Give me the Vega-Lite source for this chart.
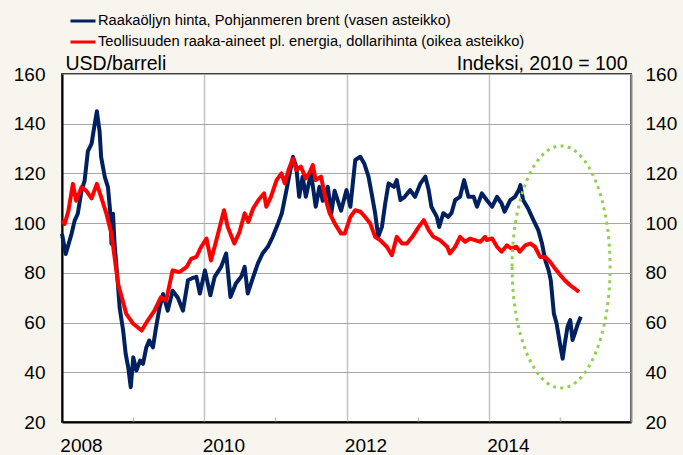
{
  "$schema": "https://vega.github.io/schema/vega-lite/v6.json",
  "width": 569,
  "height": 348,
  "autosize": {"type": "none"},
  "padding": {"left": 62, "top": 74, "right": 52, "bottom": 33},
  "background": "#F8F4EE",
  "config": {
    "font": "Liberation Sans",
    "view": {"fill": "white", "stroke": "#404040", "strokeWidth": 2}
  },
  "datasets": {
    "brent": [
      {"d":"2008-01-01","v":95.7},{"d":"2008-01-20","v":87.6},{"d":"2008-02-19","v":95.7},{"d":"2008-03-06","v":101},
      {"d":"2008-03-22","v":103.8},{"d":"2008-04-10","v":113},{"d":"2008-04-26","v":117},{"d":"2008-05-13","v":129},
      {"d":"2008-06-01","v":132},{"d":"2008-06-09","v":136},{"d":"2008-06-28","v":145},{"d":"2008-07-12","v":137},
      {"d":"2008-07-20","v":126.6},{"d":"2008-08-08","v":118.5},{"d":"2008-08-24","v":114.5},{"d":"2008-09-04","v":105},
      {"d":"2008-09-11","v":91.7},{"d":"2008-09-19","v":103.8},{"d":"2008-09-27","v":91.7},{"d":"2008-10-10","v":79.6},
      {"d":"2008-10-23","v":66},{"d":"2008-11-10","v":56.8},{"d":"2008-11-23","v":47.4},{"d":"2008-12-06","v":42},
      {"d":"2008-12-19","v":34},{"d":"2009-01-01","v":46},{"d":"2009-01-17","v":40.7},{"d":"2009-02-05","v":44.7},
      {"d":"2009-02-20","v":43.4},{"d":"2009-03-09","v":50},{"d":"2009-03-24","v":52.8},{"d":"2009-04-12","v":50},
      {"d":"2009-04-28","v":58},{"d":"2009-05-16","v":66},{"d":"2009-06-03","v":71.5},{"d":"2009-06-27","v":64.8},
      {"d":"2009-07-22","v":72.8},{"d":"2009-08-18","v":70},{"d":"2009-09-13","v":64.8},{"d":"2009-10-09","v":77},
      {"d":"2009-11-04","v":78},{"d":"2009-11-21","v":78.4},{"d":"2009-12-09","v":71.7},{"d":"2010-01-04","v":81},
      {"d":"2010-02-01","v":71},{"d":"2010-02-23","v":78.4},{"d":"2010-03-28","v":82.4},{"d":"2010-04-23","v":87.8},
      {"d":"2010-05-15","v":70.3},{"d":"2010-06-12","v":75.7},{"d":"2010-07-09","v":78.4},{"d":"2010-07-27","v":82.4},
      {"d":"2010-08-12","v":71.7},{"d":"2010-09-09","v":78.4},{"d":"2010-10-03","v":83.8},{"d":"2010-10-27","v":87.8},
      {"d":"2010-11-23","v":90.5},{"d":"2010-12-18","v":94.5},{"d":"2011-01-15","v":100},{"d":"2011-02-03","v":104},
      {"d":"2011-02-26","v":113},{"d":"2011-03-12","v":118.7},{"d":"2011-04-01","v":126.7},{"d":"2011-04-18","v":122.7},
      {"d":"2011-05-03","v":110.6},{"d":"2011-05-21","v":118.7},{"d":"2011-06-06","v":110.6},{"d":"2011-07-03","v":120},
      {"d":"2011-07-27","v":106.6},{"d":"2011-08-15","v":114.6},{"d":"2011-09-01","v":109},{"d":"2011-09-27","v":114.6},
      {"d":"2011-10-15","v":104},{"d":"2011-11-01","v":113},{"d":"2011-12-04","v":105},{"d":"2012-01-01","v":113.3},
      {"d":"2012-01-21","v":106.6},{"d":"2012-02-15","v":125.4},{"d":"2012-03-12","v":126.7},{"d":"2012-04-01","v":124},
      {"d":"2012-04-23","v":118.7},{"d":"2012-05-09","v":112},{"d":"2012-05-27","v":104},{"d":"2012-06-12","v":94.5},
      {"d":"2012-07-01","v":98.5},{"d":"2012-07-18","v":108},{"d":"2012-08-04","v":116},{"d":"2012-09-01","v":114.6},
      {"d":"2012-09-15","v":117.3},{"d":"2012-10-04","v":109.3},{"d":"2012-10-26","v":110.6},{"d":"2012-11-23","v":113.3},
      {"d":"2012-12-18","v":110.6},{"d":"2013-01-15","v":116},{"d":"2013-02-09","v":118.7},{"d":"2013-02-26","v":113.3},
      {"d":"2013-03-12","v":106.6},{"d":"2013-04-09","v":102.5},{"d":"2013-04-21","v":98.5},{"d":"2013-05-12","v":104},
      {"d":"2013-06-06","v":102.5},{"d":"2013-06-23","v":104},{"d":"2013-07-12","v":109.3},{"d":"2013-08-06","v":110.6},
      {"d":"2013-08-27","v":117.3},{"d":"2013-09-18","v":110.6},{"d":"2013-10-15","v":110.6},{"d":"2013-11-01","v":106.6},
      {"d":"2013-11-26","v":112},{"d":"2013-12-21","v":109.3},{"d":"2014-01-18","v":106.6},{"d":"2014-02-12","v":110.6},
      {"d":"2014-03-07","v":108},{"d":"2014-03-23","v":104.6},{"d":"2014-04-21","v":109.3},{"d":"2014-05-15","v":110.6},
      {"d":"2014-06-04","v":113.3},{"d":"2014-06-12","v":115.3},{"d":"2014-06-26","v":109.3},{"d":"2014-07-21","v":106},
      {"d":"2014-08-18","v":101.2},{"d":"2014-09-12","v":97.2},{"d":"2014-10-01","v":91.8},{"d":"2014-10-18","v":85},
      {"d":"2014-11-04","v":81},{"d":"2014-11-15","v":77},{"d":"2014-12-01","v":63.6},{"d":"2014-12-15","v":59.6},
      {"d":"2015-01-04","v":50.2},{"d":"2015-01-15","v":45.5},{"d":"2015-01-26","v":51.5},{"d":"2015-02-09","v":58.3},
      {"d":"2015-02-23","v":61},{"d":"2015-03-07","v":53},{"d":"2015-03-18","v":55.6},{"d":"2015-04-01","v":59},
      {"d":"2015-04-18","v":62.3}
    ],
    "raw": [
      {"d":"2008-01-01","v":101},{"d":"2008-01-15","v":99.7},{"d":"2008-02-03","v":105},{"d":"2008-02-26","v":115.8},
      {"d":"2008-03-14","v":109},{"d":"2008-04-10","v":114.5},{"d":"2008-05-05","v":113},{"d":"2008-06-01","v":110},
      {"d":"2008-06-28","v":115.8},{"d":"2008-07-20","v":110.5},{"d":"2008-08-16","v":103.8},{"d":"2008-09-11","v":95.7},
      {"d":"2008-09-27","v":86.3},{"d":"2008-10-15","v":75.6},{"d":"2008-11-03","v":70.2},{"d":"2008-11-26","v":63.5},
      {"d":"2009-01-01","v":59.5},{"d":"2009-02-13","v":56.8},{"d":"2009-03-16","v":60.8},{"d":"2009-04-20","v":64.8},
      {"d":"2009-05-23","v":70.2},{"d":"2009-06-19","v":68.9},{"d":"2009-07-22","v":81},{"d":"2009-08-26","v":80.3},
      {"d":"2009-10-01","v":82.3},{"d":"2009-10-25","v":85.6},{"d":"2009-11-21","v":86.4},{"d":"2009-12-16","v":90.5},
      {"d":"2010-01-12","v":93.8},{"d":"2010-02-04","v":85},{"d":"2010-03-04","v":93.2},{"d":"2010-03-26","v":100},
      {"d":"2010-04-12","v":105.2},{"d":"2010-05-01","v":98.5},{"d":"2010-06-04","v":91.8},{"d":"2010-07-01","v":96.5},
      {"d":"2010-07-27","v":104},{"d":"2010-08-15","v":100.5},{"d":"2010-09-09","v":106},{"d":"2010-10-06","v":109.3},
      {"d":"2010-11-04","v":112},{"d":"2010-11-15","v":106.6},{"d":"2010-12-09","v":110.6},{"d":"2011-01-07","v":117.3},
      {"d":"2011-02-01","v":120},{"d":"2011-02-18","v":116},{"d":"2011-03-09","v":121.3},{"d":"2011-04-01","v":126},
      {"d":"2011-04-18","v":121.3},{"d":"2011-05-12","v":122.7},{"d":"2011-06-06","v":118},{"d":"2011-06-23","v":120},
      {"d":"2011-07-12","v":123.4},{"d":"2011-07-27","v":117.3},{"d":"2011-08-23","v":118.7},{"d":"2011-09-17","v":109.3},
      {"d":"2011-10-06","v":104},{"d":"2011-11-01","v":100},{"d":"2011-12-04","v":95.8},{"d":"2011-12-23","v":95.8},
      {"d":"2012-01-21","v":102.5},{"d":"2012-02-15","v":105.2},{"d":"2012-03-12","v":104.6},{"d":"2012-04-06","v":102.5},
      {"d":"2012-05-01","v":100},{"d":"2012-05-27","v":94.5},{"d":"2012-06-21","v":93.2},{"d":"2012-07-26","v":90.5},
      {"d":"2012-08-21","v":87.1},{"d":"2012-09-15","v":94.5},{"d":"2012-10-12","v":91.8},{"d":"2012-11-06","v":91.8},
      {"d":"2012-12-04","v":94.5},{"d":"2013-01-06","v":98.5},{"d":"2013-02-01","v":101.2},{"d":"2013-02-26","v":97.2},
      {"d":"2013-03-22","v":94.5},{"d":"2013-04-24","v":93.2},{"d":"2013-06-01","v":90.5},{"d":"2013-06-15","v":87.8},
      {"d":"2013-07-12","v":90.5},{"d":"2013-08-06","v":94.5},{"d":"2013-09-01","v":92.5},{"d":"2013-09-26","v":93.8},
      {"d":"2013-10-21","v":93.2},{"d":"2013-11-18","v":92.5},{"d":"2013-12-12","v":94.5},{"d":"2013-12-21","v":93.2},
      {"d":"2014-01-18","v":93.8},{"d":"2014-02-12","v":90.5},{"d":"2014-03-07","v":88.5},{"d":"2014-04-04","v":91.1},
      {"d":"2014-04-26","v":89.8},{"d":"2014-05-23","v":90.5},{"d":"2014-06-09","v":88.5},{"d":"2014-07-07","v":91.1},
      {"d":"2014-08-01","v":91.8},{"d":"2014-08-26","v":90.5},{"d":"2014-09-21","v":86.4},{"d":"2014-10-18","v":86.4},
      {"d":"2014-11-12","v":84.4},{"d":"2014-12-07","v":81.7},{"d":"2015-01-04","v":79},{"d":"2015-01-26","v":77},
      {"d":"2015-02-23","v":75},{"d":"2015-03-18","v":73.7},{"d":"2015-04-09","v":72.3}
    ],
    "mark": [{"d":"2015-01-07","v":82.4}]
  },
  "layer": [
    {
      "data": {"name": "brent"},
      "mark": {"type": "line", "strokeWidth": 4, "strokeJoin": "round"},
      "encoding": {
        "x": {
          "field": "d", "type": "temporal",
          "scale": {"type": "utc", "domain": [{"year": 2008, "month": 1, "date": 1, "utc": true}, {"year": 2016, "month": 1, "date": 1, "utc": true}]},
          "axis": {
            "title": null,
            "values": [{"year": 2008, "utc": true}, {"year": 2009, "utc": true}, {"year": 2010, "utc": true}, {"year": 2011, "utc": true}, {"year": 2012, "utc": true}, {"year": 2013, "utc": true}, {"year": 2014, "utc": true}, {"year": 2015, "utc": true}],
            "grid": true, "gridColor": "#C4C4C4", "gridWidth": 1.5,
            "gridOpacity": {"condition": {"test": "utcyear(datum.value) % 2 == 0", "value": 1}, "value": 0},
            "ticks": true, "tickSize": -5, "tickColor": "#BDBDBD", "tickWidth": 1.5,
            "tickOpacity": {"condition": {"test": "utcyear(datum.value) % 2 == 1", "value": 1}, "value": 0},
            "labelExpr": "utcyear(datum.value) % 2 == 0 ? utcFormat(datum.value, '%Y') : ''",
            "labelOffset": 19, "labelPadding": 19, "labelFontSize": 19, "labelColor": "black", "labelFlush": false,
            "domainColor": "black", "domainWidth": 2
          }
        },
        "y": {
          "field": "v", "type": "quantitative",
          "scale": {"domain": [20, 160], "nice": false},
          "axis": {
            "values": [20, 40, 60, 80, 100, 120, 140, 160],
            "grid": true, "gridColor": "#A6A6A6", "gridWidth": 1.2,
            "ticks": false, "tickSize": 0, "labelPadding": 17, "labelFontSize": 19, "labelColor": "black",
            "domainColor": "black", "domainWidth": 2,
            "title": "USD/barreli", "titleAngle": 0, "titleAlign": "left", "titleBaseline": "alphabetic",
            "titleX": 3, "titleY": -5, "titleFontSize": 19.5, "titleFontWeight": "normal", "titleColor": "black"
          }
        },
        "color": {
          "datum": "Raakaöljyn hinta, Pohjanmeren brent (vasen asteikko)",
          "scale": {
            "domain": ["Raakaöljyn hinta, Pohjanmeren brent (vasen asteikko)", "Teollisuuden raaka-aineet pl. energia, dollarihinta (oikea asteikko)"],
            "range": ["#002060", "#FF0000"]
          },
          "legend": {
            "orient": "none", "legendX": 7, "legendY": -67, "title": null,
            "symbolType": "stroke", "symbolSize": 625, "symbolStrokeWidth": 3,
            "labelFontSize": 14.7, "labelColor": "black", "labelOffset": 1, "rowPadding": -5, "labelLimit": 600
          }
        }
      }
    },
    {
      "data": {"name": "raw"},
      "mark": {"type": "line", "strokeWidth": 4, "strokeJoin": "round"},
      "encoding": {
        "x": {"field": "d", "type": "temporal"},
        "y": {
          "field": "v", "type": "quantitative",
          "scale": {"domain": [20, 160], "nice": false},
          "axis": {
            "orient": "right",
            "values": [20, 40, 60, 80, 100, 120, 140, 160],
            "grid": false, "ticks": false, "tickSize": 0, "labelPadding": 14, "labelFontSize": 19, "labelColor": "black",
            "domainColor": "#8C8C8C", "domainWidth": 2,
            "title": "Indeksi, 2010 = 100", "titleAngle": 0, "titleAlign": "right", "titleBaseline": "alphabetic",
            "titleX": -4, "titleY": -5, "titleFontSize": 19.5, "titleFontWeight": "normal", "titleColor": "black"
          }
        },
        "color": {"datum": "Teollisuuden raaka-aineet pl. energia, dollarihinta (oikea asteikko)"}
      }
    },
    {
      "data": {"name": "mark"},
      "mark": {
        "type": "point", "filled": false,
        "shape": "M -0.405 0 A 0.405 1 0 1 0 0.405 0 A 0.405 1 0 1 0 -0.405 0 Z",
        "size": 58564, "stroke": "#92D050", "strokeWidth": 3, "strokeDash": [3, 4.3], "opacity": 1
      },
      "encoding": {
        "x": {"field": "d", "type": "temporal"},
        "y": {"field": "v", "type": "quantitative", "scale": {"domain": [20, 160], "nice": false}, "axis": null}
      }
    }
  ],
  "resolve": {"scale": {"y": "independent"}}
}
